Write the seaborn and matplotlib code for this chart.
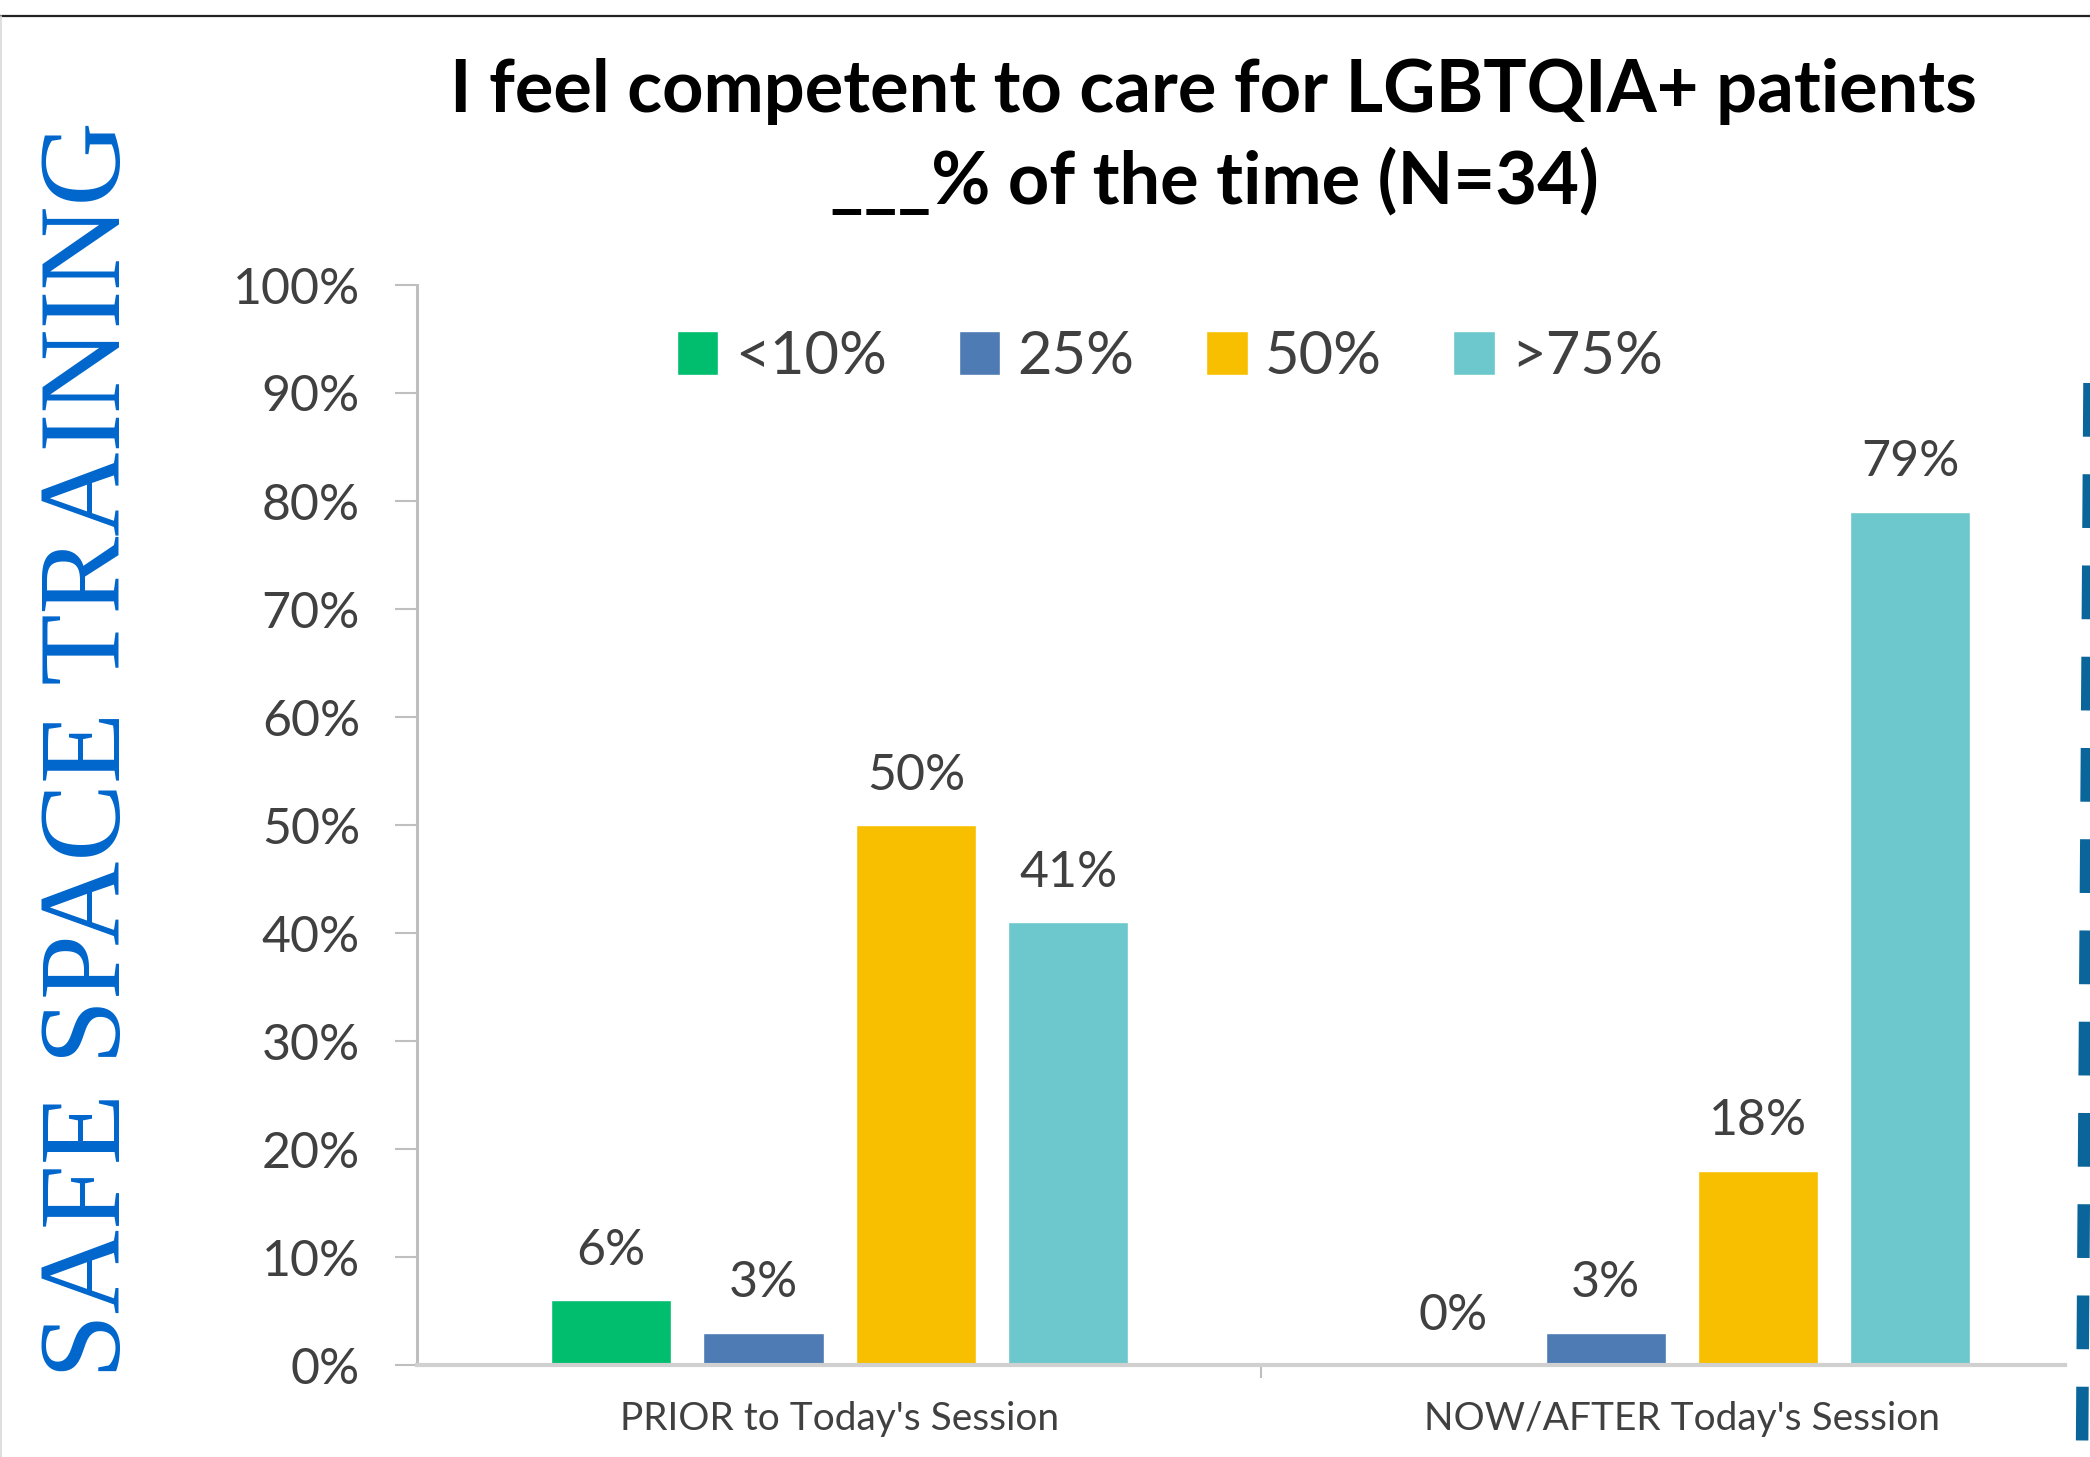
import matplotlib
matplotlib.use("Agg")
import matplotlib.pyplot as plt
from matplotlib.lines import Line2D
from matplotlib.ticker import FixedLocator, PercentFormatter
import pandas as pd
import seaborn as sns


SESSIONS = ["PRIOR to Today's Session", "NOW/AFTER Today's Session"]
LEVELS = ["<10%", "25%", "50%", ">75%"]
PRIOR = [6, 3, 50, 41]
AFTER = [0, 3, 18, 79]
COLORS = ["#00BE6E", "#4E7BB4", "#F7BF00", "#6CC8CC"]
Y_TICKS = [0, 10, 20, 30, 40, 50, 60, 70, 80, 90, 100]
TITLE = "I feel competent to care for LGBTQIA+ patients\n___% of the time (N=34)"
SIDE_TEXT = "SAFE SPACE TRAINING"

W, H = 2090, 1457


def main():
    df = pd.DataFrame({
        "session": [SESSIONS[0]] * len(LEVELS) + [SESSIONS[1]] * len(LEVELS),
        "level": LEVELS * 2,
        "pct": PRIOR + AFTER,
    })

    sns.set_theme(style="white")
    plt.rcParams["font.family"] = ["Lato", "DejaVu Sans"]

    fig = plt.figure(figsize=(W / 100, H / 100), dpi=100)
    ax = fig.add_axes([417 / W, 1 - 1365 / H, (2065 - 417) / W, (1365 - 285) / H])

    sns.barplot(
        data=df, x="session", y="pct", hue="level",
        order=SESSIONS, hue_order=LEVELS, palette=COLORS,
        width=0.7235, gap=0.21, errorbar=None, saturation=1, ax=ax,
    )

    for cont in ax.containers:
        ax.bar_label(cont, fmt="{:.0f}%", padding=19, fontsize=36, color="#404040")

    ax.set_xlim(-0.502, 1.455)
    ax.set_ylim(0, 100)
    ax.set_yticks(Y_TICKS)
    ax.yaxis.set_major_formatter(PercentFormatter(xmax=100, decimals=0))
    ax.set_xlabel("")
    ax.set_ylabel("")

    for side in ["top", "right"]:
        ax.spines[side].set_visible(False)
    ax.spines["left"].set_color("#BFBFBF")
    ax.spines["left"].set_linewidth(2.2)
    ax.spines["bottom"].set_color("#D0D0D0")
    ax.spines["bottom"].set_linewidth(3)

    ax.tick_params(axis="y", which="major", left=True, length=16, width=1.5,
                   color="#BFBFBF", pad=25, labelsize=36, labelcolor="#404040")
    ax.tick_params(axis="x", which="major", bottom=False, length=0, pad=26,
                   labelsize=28, labelcolor="#404040")
    ax.xaxis.set_minor_locator(FixedLocator([0.5]))
    ax.tick_params(axis="x", which="minor", bottom=True, length=9, width=1.5, color="#BFBFBF")

    handles, labels = ax.get_legend_handles_labels()
    ax.legend(
        handles, labels, loc="center",
        bbox_to_anchor=(1170 / W, 1 - 357 / H), bbox_transform=fig.transFigure,
        ncol=4, frameon=False, fontsize=43, labelcolor="#404040",
        handlelength=0.7, handleheight=0.75, handletextpad=0.28, columnspacing=1.2,
    )

    fig.text(1214 / W, 1 - 137 / H, TITLE, ha="center", va="center",
             fontsize=52, fontweight="bold", color="black", linespacing=1.4)

    fig.text(92 / W, 1 - 750 / H, SIDE_TEXT, rotation=90, ha="center", va="center",
             fontsize=84, family=["Liberation Serif"], color="#0066CC")

    # slide frame and the dashed bar at the right edge
    fig.add_artist(Line2D([0, 1], [1 - 16 / H] * 2, transform=fig.transFigure,
                          color="#222222", lw=1.6))
    fig.add_artist(Line2D([1 / W] * 2, [0, 1 - 16 / H], transform=fig.transFigure,
                          color="#D8D8D8", lw=1.2))
    fig.add_artist(Line2D([2089.5 / W, 2082 / W], [1 - 383 / H, 0], transform=fig.transFigure,
                          color="#0A669A", lw=9, linestyle=(0, (4.3, 3.0))))

    fig.savefig("out.png", dpi=100)


if __name__ == "__main__":
    main()
